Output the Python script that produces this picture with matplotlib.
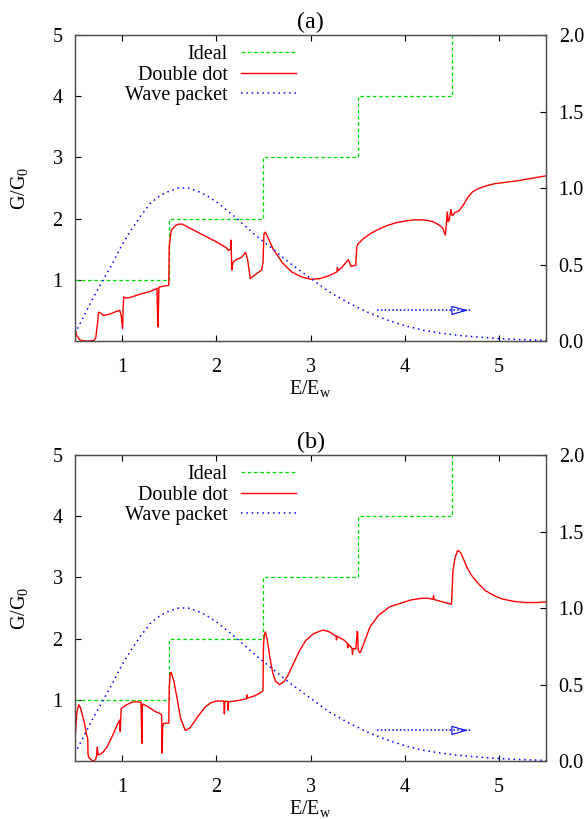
import numpy as np
import matplotlib.pyplot as plt

plt.rcParams['font.family'] = ['Liberation Serif', 'DejaVu Serif']
plt.rcParams['mathtext.fontset'] = 'custom'
plt.rcParams['mathtext.rm'] = 'Liberation Serif'
plt.rcParams['mathtext.it'] = 'Liberation Serif:italic'
plt.rcParams['font.size'] = 14.5

# ideal quantised conductance (steps in units of G0)
ideal_x = [0.5, 1.5, 2.5, 3.5, 4.5, 5.5]
ideal_g = [1, 2, 3, 4, 5, 5]

# wave packet energy distribution (right axis)
wp_e = [0.5, 0.6, 0.7, 0.8, 0.9, 1.0, 1.1, 1.2, 1.3, 1.4, 1.5, 1.6, 1.7,
        1.8, 1.9, 2.0, 2.2, 2.4, 2.6, 2.8, 3.0, 3.2, 3.4, 3.6, 3.8, 4.0,
        4.2, 4.4, 4.6, 4.8, 5.0, 5.2, 5.5]
wp_w = [0.05, 0.17, 0.29, 0.40, 0.51, 0.63, 0.73, 0.82, 0.90, 0.95, 0.98,
        1.00, 1.00, 0.98, 0.95, 0.91, 0.81, 0.70, 0.60, 0.50, 0.41, 0.32,
        0.25, 0.19, 0.14, 0.10, 0.07, 0.05, 0.035, 0.025, 0.016, 0.01, 0.004]

arrow_e = [3.7, 4.7]
arrow_w = 0.2

# double dot conductance, panel (a)
dd_a_e = [0.50, 0.52, 0.55, 0.60, 0.65, 0.70, 0.72, 0.74, 0.75, 0.77,
          0.80, 0.85, 0.90, 0.95, 0.975, 0.99, 1.005, 1.01, 1.017, 1.05,
          1.10, 1.20, 1.30, 1.37, 1.375, 1.38, 1.385, 1.39, 1.45, 1.495,
          1.50, 1.52, 1.56, 1.60, 1.64, 1.70, 1.80, 1.90, 2.00, 2.10,
          2.13, 2.15, 2.155, 2.165, 2.175, 2.20, 2.27, 2.31, 2.33, 2.36,
          2.40, 2.48, 2.495, 2.505, 2.52, 2.56, 2.60, 2.70, 2.80, 2.90,
          3.00, 3.10, 3.20, 3.28, 3.285, 3.29, 3.33, 3.40, 3.43, 3.48,
          3.49, 3.50, 3.55, 3.63, 3.70, 3.80, 3.90, 4.00, 4.10, 4.20,
          4.30, 4.36, 4.40, 4.43, 4.44, 4.45, 4.46, 4.47, 4.49, 4.50,
          4.51, 4.53, 4.57, 4.62, 4.67, 4.72, 4.78, 4.85, 4.95, 5.05,
          5.20, 5.35, 5.50]
dd_a_g = [0.20, 0.08, 0.02, 0.00, 0.00, 0.01, 0.05, 0.30, 0.47, 0.46,
          0.42, 0.43, 0.46, 0.49, 0.50, 0.42, 0.20, 0.50, 0.72, 0.70,
          0.72, 0.77, 0.81, 0.86, 0.50, 0.23, 0.50, 0.88, 0.90, 0.91,
          1.55, 1.80, 1.88, 1.91, 1.91, 1.86, 1.78, 1.70, 1.62, 1.53,
          1.48, 1.50, 1.65, 1.16, 1.28, 1.32, 1.37, 1.45, 1.35, 1.02,
          1.07, 1.16, 1.28, 1.75, 1.78, 1.65, 1.51, 1.28, 1.13, 1.05,
          1.01, 1.02, 1.07, 1.13, 1.20, 1.15, 1.20, 1.33, 1.22, 1.24,
          1.54, 1.58, 1.66, 1.75, 1.81, 1.88, 1.93, 1.96, 1.98, 1.98,
          1.95, 1.90, 1.85, 1.73, 1.90, 2.11, 1.95, 1.97, 2.15, 2.06,
          2.05, 2.10, 2.12, 2.22, 2.35, 2.44, 2.49, 2.53, 2.57, 2.59,
          2.62, 2.66, 2.70]

# double dot conductance, panel (b)
dd_b_e = [0.50, 0.52, 0.54, 0.56, 0.58, 0.60, 0.62, 0.635, 0.638, 0.645,
          0.67, 0.70, 0.72, 0.73, 0.735, 0.745, 0.77, 0.80, 0.84, 0.90,
          0.95, 0.975, 0.98, 0.985, 0.99, 1.05, 1.10, 1.15, 1.20, 1.205,
          1.21, 1.215, 1.25, 1.30, 1.35, 1.41, 1.42, 1.425, 1.43, 1.44,
          1.47, 1.495, 1.50, 1.51, 1.52, 1.55, 1.58, 1.62, 1.67, 1.72,
          1.80, 1.88, 1.94, 2.00, 2.08, 2.085, 2.09, 2.10, 2.12, 2.125,
          2.13, 2.20, 2.30, 2.32, 2.325, 2.33, 2.40, 2.45, 2.48, 2.495,
          2.50, 2.51, 2.52, 2.54, 2.567, 2.60, 2.63, 2.67, 2.72, 2.76,
          2.82, 2.885, 2.95, 3.03, 3.13, 3.20, 3.27, 3.275, 3.28, 3.36,
          3.39, 3.395, 3.40, 3.43, 3.44, 3.445, 3.45, 3.48, 3.495, 3.50,
          3.505, 3.52, 3.53, 3.56, 3.63, 3.72, 3.84, 3.96, 4.06, 4.18,
          4.25, 4.30, 4.305, 4.31, 4.40, 4.48, 4.495, 4.50, 4.51, 4.53,
          4.56, 4.59, 4.62, 4.66, 4.71, 4.78, 4.85, 4.95, 5.03, 5.15,
          5.27, 5.40, 5.50]
dd_b_g = [0.34, 0.80, 0.92, 0.86, 0.74, 0.62, 0.45, 0.36, 0.12, 0.06,
          0.02, 0.00, 0.03, 0.10, 0.23, 0.10, 0.11, 0.15, 0.23, 0.42,
          0.60, 0.67, 0.48, 0.68, 0.86, 0.92, 0.96, 0.97, 0.96, 0.60,
          0.29, 0.93, 0.91, 0.86, 0.81, 0.77, 0.74, 0.13, 0.55, 0.61,
          0.62, 0.62, 1.20, 1.43, 1.45, 1.30, 1.05, 0.70, 0.50, 0.54,
          0.72, 0.88, 0.95, 0.98, 0.98, 0.77, 0.97, 0.98, 0.97, 0.83,
          0.97, 0.98, 1.01, 1.02, 1.08, 1.03, 1.06, 1.10, 1.13, 1.15,
          1.90, 2.06, 2.11, 1.98, 1.70, 1.43, 1.30, 1.25, 1.30, 1.40,
          1.60, 1.81, 1.97, 2.08, 2.14, 2.11, 2.04, 1.98, 2.04, 1.97,
          1.92, 1.85, 1.91, 1.86, 1.84, 1.74, 1.84, 1.83, 2.12, 2.10,
          1.82, 1.77, 1.78, 1.90, 2.19, 2.38, 2.52, 2.58, 2.63, 2.66,
          2.66, 2.64, 2.70, 2.64, 2.60, 2.57, 2.56, 2.70, 3.09, 3.30,
          3.44, 3.41, 3.31, 3.16, 3.03, 2.90, 2.79, 2.70, 2.65, 2.61,
          2.59, 2.59, 2.60]

panels = [("(a)", dd_a_e, dd_a_g, 0.5836), ("(b)", dd_b_e, dd_b_g, 0.0708)]

fig = plt.figure(figsize=(5.86, 8.19), dpi=100)

for title, de, dg, bottom in panels:
    ax = fig.add_axes([0.128, bottom, 0.804, 0.3736])
    ax2 = ax.twinx()

    l1, = ax.step(ideal_x, ideal_g, where='post', color='#00e000',
                  ls=(0, (3, 2)), lw=0.9)
    l2, = ax.plot(de, dg, color='red', lw=1.0)
    l3, = ax2.plot(wp_e, wp_w, color='blue', ls=(0, (1, 2.5)), lw=1.1)

    ax2.plot(arrow_e, [arrow_w, arrow_w], color='blue', ls=(0, (1, 1.5)), lw=1.1)
    ax2.annotate('', xy=(arrow_e[1], arrow_w), xytext=(arrow_e[1] - 0.1, arrow_w),
                 arrowprops=dict(arrowstyle='-|>,head_length=0.7,head_width=0.2',
                                 fc='none', ec='blue', lw=0.8))

    ax.set_xlim(0.5, 5.5)
    ax.set_ylim(0, 5)
    ax2.set_ylim(0, 2)
    ax.set_xticks([1, 2, 3, 4, 5])
    ax.set_yticks([1, 2, 3, 4, 5])
    ax2.set_yticks([0, 0.5, 1.0, 1.5, 2.0])
    ax2.set_yticklabels(['0.0', '0.5', '1.0', '1.5', '2.0'])

    ax.tick_params(direction='in', top=True, right=False, length=4,
                   width=0.8, pad=9)
    ax.tick_params(axis='x', pad=12)
    ax2.tick_params(direction='in', length=4, width=0.8, pad=9)
    for a in (ax, ax2):
        for s in a.spines.values():
            s.set_color('0.3')
            s.set_linewidth(0.9)

    ax.set_xlabel(r'E/E$_\mathrm{w}$', labelpad=1)
    ax.set_ylabel(r'G/G$_\mathrm{0}$', labelpad=16)
    ax.set_title(title, pad=5)

    ax.legend([l1, l2, l3], ['Ideal', 'Double dot', 'Wave packet'],
              loc='upper right', bbox_to_anchor=(0.47, 0.967),
              markerfirst=False, frameon=False, handlelength=2.75,
              handletextpad=0.65, labelspacing=0.07, borderpad=0,
              borderaxespad=0)

fig.savefig('out.png', dpi=100)
